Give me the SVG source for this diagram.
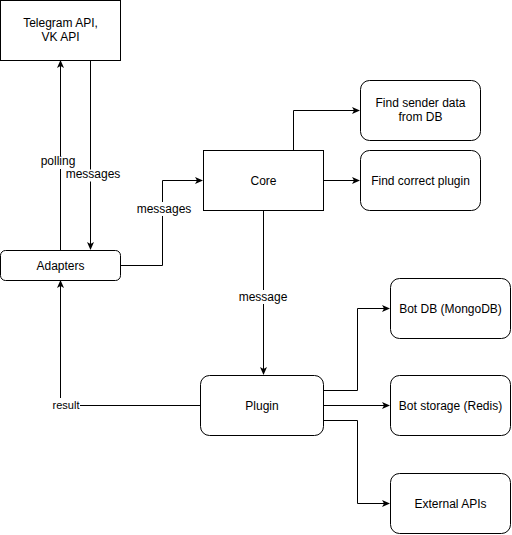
<svg xmlns="http://www.w3.org/2000/svg" width="512" height="535" viewBox="0 0 512 535">
<defs>
<style>
.box{fill:#fff;stroke:#000;stroke-width:1}
.t{font-family:"Liberation Sans",Arial,sans-serif;font-size:12px;fill:#000;text-anchor:middle}
.s{font-size:11px}
.e{fill:none;stroke:#000;stroke-width:1}
.lb{fill:#fff}
</style>
<marker id="a" markerWidth="10" markerHeight="10" refX="7" refY="5" orient="auto" markerUnits="userSpaceOnUse">
<path d="M0,1.5 L8,5 L0,8.5 L2,5 Z" fill="#000"/>
</marker>
</defs>
<rect width="512" height="535" fill="#fff"/>
<g id="connectors">
<path class="e" d="M60.5,250 V61" marker-end="url(#a)"/>
<path class="e" d="M90.5,60 V249" marker-end="url(#a)"/>
<path class="e" d="M120,265.5 H162.5 V180.5 H202" marker-end="url(#a)"/>
<path class="e" d="M293.5,150 V110.5 H359" marker-end="url(#a)"/>
<path class="e" d="M323,180.5 H359" marker-end="url(#a)"/>
<path class="e" d="M263.5,210 V374" marker-end="url(#a)"/>
<path class="e" d="M323,390.5 H357.5 V308.5 H389" marker-end="url(#a)"/>
<path class="e" d="M323,405.5 H389" marker-end="url(#a)"/>
<path class="e" d="M323,420.5 H357.5 V503.5 H389" marker-end="url(#a)"/>
<path class="e" d="M200,405.5 H60.5 V281" marker-end="url(#a)"/>
<rect class="lb" x="38" y="156" width="42" height="13"/>
<text class="t" x="58" y="165">polling</text>
<rect class="lb" x="66" y="169.5" width="56" height="12"/>
<text class="t" x="93" y="178">messages</text>
<rect class="lb" x="136" y="202" width="56" height="14"/>
<text class="t" x="164" y="213">messages</text>
<rect class="lb" x="238" y="290" width="50" height="14"/>
<text class="t" x="263" y="301">message</text>
<rect class="lb" x="52" y="398" width="28" height="13"/>
<text class="t s" x="66" y="409">result</text>
</g>
<g id="telegram">
<rect class="box" x="0.5" y="0.5" width="120" height="60"/>
<text class="t" x="60.5" y="27">Telegram API,</text>
<text class="t" x="60.5" y="41">VK API</text>
</g>
<g id="adapters">
<rect class="box" x="0.5" y="250.5" width="120" height="30" rx="5"/>
<text class="t" x="60.5" y="270">Adapters</text>
</g>
<g id="core">
<rect class="box" x="203.5" y="150.5" width="120" height="60"/>
<text class="t" x="263.5" y="185">Core</text>
</g>
<g id="find-sender">
<rect class="box" x="360.5" y="80.5" width="120" height="60" rx="9"/>
<text class="t" x="420.5" y="107">Find sender data</text>
<text class="t" x="420.5" y="121">from DB</text>
</g>
<g id="find-plugin">
<rect class="box" x="360.5" y="150.5" width="120" height="60" rx="9"/>
<text class="t" x="420.5" y="185">Find correct plugin</text>
</g>
<g id="plugin">
<rect class="box" x="200.5" y="375.5" width="123" height="60" rx="9"/>
<text class="t" x="262" y="410">Plugin</text>
</g>
<g id="bot-db">
<rect class="box" x="390.5" y="278.5" width="120" height="60" rx="9"/>
<text class="t" x="450.5" y="313">Bot DB (MongoDB)</text>
</g>
<g id="bot-storage">
<rect class="box" x="390.5" y="375.5" width="120" height="60" rx="9"/>
<text class="t" x="450.5" y="410">Bot storage (Redis)</text>
</g>
<g id="external">
<rect class="box" x="390.5" y="473.5" width="120" height="60" rx="9"/>
<text class="t" x="450.5" y="508">External APIs</text>
</g>
</svg>
